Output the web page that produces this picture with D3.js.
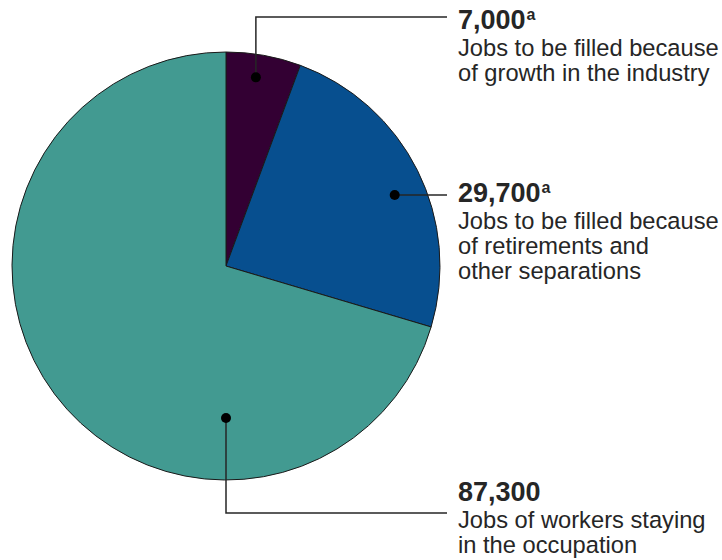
<!DOCTYPE html>
<html>
<head>
<meta charset="utf-8">
<script src="https://cdn.jsdelivr.net/npm/d3@7"></script>
<style>
  html, body { margin: 0; padding: 0; background: #fff; }
  svg { display: block; font-family: "Liberation Sans", Arial, sans-serif; }
</style>
</head>
<body>
<svg id="chart" width="722" height="560"></svg>
<script>
// ---- data ----
const categories = ["growth", "retirements", "staying"];
const values = [7000, 29700, 87300];
const valueLabels = ["7,000", "29,700", "87,300"];
const footnotes = ["a", "a", ""];
const descriptions = [
  ["Jobs to be filled because", "of growth in the industry"],
  ["Jobs to be filled because", "of retirements and", "other separations"],
  ["Jobs of workers staying", "in the occupation"]
];
const colors = ["#330033", "#074f8f", "#429a91"];

// ---- layout ----
const cx = 226, cy = 266, R = 214;
const textX = 458, lineEndX = 447;
// annotation anchors: [angle in degrees from top, radius], leader elbow y, number baseline
const anchors = [
  { ang: 9.0, r: 191, elbowY: 17, baseY: 29 },
  { ang: 67.2, r: 183, elbowY: null, baseY: 202 },
  { ang: 180, r: 152, elbowY: 513, baseY: 501 }
];

const svg = d3.select("#chart");
const g = svg.append("g").attr("transform", `translate(${cx},${cy})`);

const pie = d3.pie().sort(null).value(d => d);
const arcs = pie(values);
const arc = d3.arc().innerRadius(0).outerRadius(R);

g.selectAll("path.slice")
  .data(arcs)
  .join("path")
  .attr("class", "slice")
  .attr("d", arc)
  .attr("fill", (d, i) => colors[i])
  .attr("stroke", "#1a1a1a")
  .attr("stroke-width", 1)
  .attr("stroke-linejoin", "round");

const color = "#262626";
anchors.forEach((a, i) => {
  const rad = a.ang * Math.PI / 180;
  const px = cx + a.r * Math.sin(rad);
  const py = cy - a.r * Math.cos(rad);
  let pts;
  if (a.elbowY === null) {
    pts = [[px, py], [lineEndX, py]];
  } else {
    pts = [[px, py], [px, a.elbowY], [lineEndX, a.elbowY]];
  }
  svg.append("path")
    .attr("d", d3.line()(pts))
    .attr("fill", "none")
    .attr("stroke", color)
    .attr("stroke-width", 1.5);
  svg.append("circle")
    .attr("cx", px).attr("cy", py).attr("r", 5)
    .attr("fill", "#000");

  const num = svg.append("text")
    .attr("x", textX).attr("y", a.baseY)
    .attr("fill", color)
    .attr("font-size", 27)
    .attr("font-weight", "bold");
  num.append("tspan").text(valueLabels[i]);
  if (footnotes[i]) {
    num.append("tspan")
      .attr("font-size", 16)
      .attr("dx", 1)
      .attr("dy", -9)
      .text(footnotes[i]);
  }
  descriptions[i].forEach((line, j) => {
    svg.append("text")
      .attr("x", textX)
      .attr("y", a.baseY + 27 + j * 25)
      .attr("fill", color)
      .attr("font-size", 23.7)
      .text(line);
  });
});
</script>
</body>
</html>
